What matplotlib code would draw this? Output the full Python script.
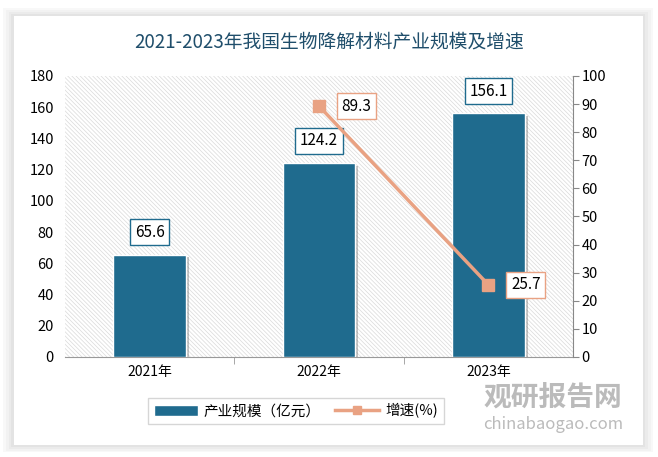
import matplotlib.pyplot as plt
from matplotlib.patches import FancyBboxPatch
from matplotlib.lines import Line2D
from matplotlib.patches import Patch
import matplotlib.patheffects as pe

plt.rcParams['font.family'] = ['Noto Sans CJK SC', 'DejaVu Sans']
plt.rcParams['hatch.color'] = '#dadada'
plt.rcParams['hatch.linewidth'] = 0.5

years = ['2021年', '2022年', '2023年']
scale = [65.6, 124.2, 156.1]          # 产业规模（亿元）
growth = [None, 89.3, 25.7]           # 增速(%)

bar_color = '#1f6b8e'
line_color = '#e9a283'
title_color = '#1f4e6b'

fig = plt.figure(figsize=(6.58, 4.57), dpi=100)

# card with soft shadow
for i, a in enumerate([0.05, 0.05, 0.06, 0.08]):
    pad = (4 - i) * 0.004
    fig.patches.append(FancyBboxPatch((0.021 - pad, 0.026 - pad), 0.956 + 2 * pad, 0.94 + 2 * pad,
                                      boxstyle='square,pad=0', transform=fig.transFigure,
                                      facecolor='#888888', edgecolor='none', alpha=a, zorder=0))
fig.patches.append(FancyBboxPatch((0.021, 0.026), 0.956, 0.94, boxstyle='square,pad=0',
                                  transform=fig.transFigure, facecolor='white',
                                  edgecolor='none', zorder=1))

fig.text(0.5, 0.908, '2021-2023年我国生物降解材料产业规模及增速', ha='center', va='center',
         fontsize=13.5, color=title_color)

ax = fig.add_axes([65 / 658, 1 - 357 / 457, 508 / 658, 281 / 457])
ax.set_zorder(2)
ax.patch.set_facecolor('white')
ax.patch.set_hatch('\\\\\\\\\\\\\\\\')
ax.patch.set_edgecolor('#dadada')
ax.patch.set_linewidth(0)

x = list(range(len(years)))
bars = ax.bar(x, scale, width=0.43, color=bar_color, edgecolor='white', linewidth=1.0, zorder=3)
for b in bars:
    b.set_path_effects([pe.SimplePatchShadow(offset=(2, -2), shadow_rgbFace='#555555', alpha=0.35),
                        pe.Normal()])
for xi, v in zip(x, scale):
    ax.annotate(f'{v}', (xi, v), xytext=(0, 16), textcoords='offset points', ha='center',
                va='center', fontsize=11, color='black', zorder=5,
                bbox=dict(boxstyle='square,pad=0.3', fc='white', ec=bar_color, lw=1))

ax.set_xlim(-0.5, 2.5)
ax.set_ylim(0, 180)
ax.set_yticks(range(0, 181, 20))
ax.set_xticks(x)
ax.set_xticklabels(years, fontsize=10)
ax.set_xticks([0.5, 1.5], minor=True)
ax.tick_params(axis='x', which='major', length=0, pad=6)
ax.tick_params(axis='x', which='minor', length=5, color='#999999')
ax.tick_params(axis='y', length=0, labelsize=10.5, pad=8)
for s in ['top', 'left', 'right']:
    ax.spines[s].set_visible(False)
ax.spines['bottom'].set_color('#999999')

ax2 = ax.twinx()
gx = [xi for xi, g in zip(x, growth) if g is not None]
gy = [g for g in growth if g is not None]
ax2.plot(gx, gy, color=line_color, lw=2.5, marker='s', markersize=8, zorder=4)
for xi, v in zip(gx, gy):
    ax2.annotate(f'{v}', (xi, v), xytext=(27, 0), textcoords='offset points', ha='center',
                 va='center', fontsize=11, color='black',
                 bbox=dict(boxstyle='square,pad=0.3', fc='white', ec=line_color, lw=1))
ax2.set_ylim(0, 100)
ax2.set_yticks(range(0, 101, 10))
ax2.tick_params(axis='y', length=4, color='#888888', labelsize=10.5, pad=2)
for s in ['top', 'left', 'bottom']:
    ax2.spines[s].set_visible(False)
ax2.spines['right'].set_color('#888888')

handles = [Patch(facecolor=bar_color, edgecolor='white'),
           Line2D([0], [0], color=line_color, lw=2.5, marker='s', markersize=6)]
leg = fig.legend(handles, ['产业规模（亿元）', '增速(%)'], loc='center',
                 bbox_to_anchor=(296 / 658, 1 - 411 / 457), ncol=2, frameon=True,
                 fancybox=False, edgecolor='#cccccc', fontsize=10.5, handlelength=3,
                 columnspacing=1.0, handletextpad=0.4)

# watermark
fig.text(0.84, 0.13, '观研报告网', ha='center', va='center', fontsize=20,
         color='#aaaaaa', fontweight='bold', alpha=0.8, zorder=10)
fig.text(0.84, 0.072, 'chinabaogao.com', ha='center', va='center', fontsize=12,
         color='#aaaaaa', alpha=0.8, zorder=10)

fig.savefig('out.png', dpi=100)
